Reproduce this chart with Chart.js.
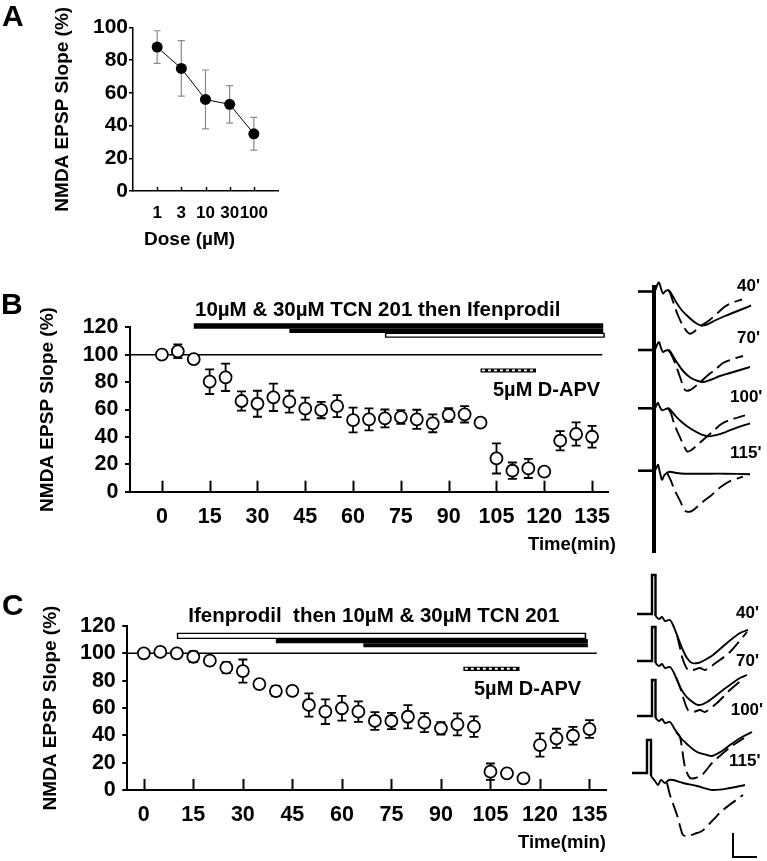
<!DOCTYPE html>
<html>
<head>
<meta charset="utf-8">
<script src="https://cdn.jsdelivr.net/npm/chart.js@4/dist/chart.umd.min.js"></script>
<style>
html,body{margin:0;padding:0;background:#fff;}
#wrap{position:relative;width:767px;height:861px;overflow:hidden;background:#fff;}
canvas{position:absolute;display:block;}
</style>
</head>
<body>
<div id="wrap">
  <canvas id="cA" width="300" height="260" style="left:0;top:0"></canvas>
  <canvas id="cB" width="625" height="280" style="left:0;top:280px"></canvas>
  <canvas id="tB" width="142" height="285" style="left:625px;top:275px"></canvas>
  <canvas id="cC" width="625" height="286" style="left:0;top:575px"></canvas>
  <canvas id="tC" width="142" height="301" style="left:625px;top:560px"></canvas>
</div>
<script>
// ================= DATA =================
// Panel A: dose response
const doseLabels = ['1', '3', '10', '30', '100'];
const doseSlope  = [88, 75, 56, 53, 35];
const doseErr    = [10, 17, 18, 11.5, 10];

// Panels B / C: time course (min) and NMDA EPSP slope (%)
const timeTicks = [0, 15, 30, 45, 60, 75, 90, 105, 120, 135];
const timeB  = [0,5,10,15,20,25,30,35,40,45,50,55,60,65,70,75,80,85,90,95,100,105,110,115,120,125,130,135];
const slopeB = [100,102.5,96.8,80.3,83.5,66.2,64.2,68.9,65.7,60.6,59.6,62.5,52.3,52.8,53.5,54.5,52.8,49.9,56,56.5,50.4,24.3,15.3,17,14.6,37.2,42.1,40.1];
const errB   = [0,5,0,9,10,7,9.5,10,8,8,6,8,9,8,6.5,5,7,6.5,5,6,3,11,6,7,0,7,8.5,8];
const timeC  = [0,5,10,15,20,25,30,35,40,45,50,55,60,65,70,75,80,85,90,95,100,105,110,115,120,125,130,135];
const slopeC = [100,101,100,97.5,94.6,89.5,87,77.5,72.4,72.6,62.2,57.3,59.8,57.3,50.5,50.5,53.6,49.3,45.1,48,46.3,13.4,12.2,8.5,32.9,37.8,39.7,44.6];
const errC   = [0,0,0,4,0,4,8.5,0,3.7,3,8.5,9,9,7.5,6.5,6,8.5,7,4.5,8,7.5,6,0,0,8.5,7,6.5,6.5];

// Drug application periods (min)
const refLineB = [-10, 138.2];
const tcnB     = [10, 138.5];
const tcnHighB = [40, 138.5];
const ifenB    = [70, 139];
const apvB     = [100, 117.4];
const refLineC = [-5, 137.2];
const ifenC    = [10, 134];
const tcnC     = [40, 134.5];
const tcnHighC = [66.5, 134.5];
const apvC     = [96.8, 113.8];

// Example traces (x: time from stimulus, y: amplitude from baseline)
const stubB = [[-17,0],[0,0]];
const artifactB = [[-1,6.5],[-1,-261.5]];
const traceB40Solid  = [[0,0],[2,6],[4,9],[6,3],[8,-2],[10,0],[13,1.5],[15,0],[18,-5],[22,-12],[27,-19],[33,-25],[40,-31],[46,-34],[52,-33],[60,-29],[70,-24.5],[80,-20.5],[90,-16.5],[96,-14]];
const traceB40Dashed = [[13,1.5],[15,-1],[18,-10],[23,-24],[29,-36],[34,-42],[38,-41],[45,-35],[54,-29],[62,-22],[70,-15],[78,-11],[87,-8]];
const traceB70Solid  = [[0,0],[2,5],[4,8],[6,2],[8,-2],[10,-1],[13,0],[15,-1],[18,-6],[23,-14],[29,-22],[36,-28],[43,-31],[48,-32],[55,-30],[65,-26],[75,-23],[85,-20],[95,-17]];
const traceB70Dashed = [[13,0],[16,-4],[20,-13],[25,-27],[30,-40],[35,-40],[42,-35],[52,-26],[61,-19],[68,-13],[78,-9],[88,-6]];
const traceB100Solid  = [[0,0],[2,4],[3,5.5],[5,1],[7,-2],[10,-1],[13,0],[15,-1],[20,-7],[27,-14],[35,-20],[44,-25],[53,-28],[60,-27],[70,-24],[80,-20],[95,-15]];
const traceB100Dashed = [[13,0],[16,-5],[19,-15],[25,-29],[32,-43],[36,-42],[42,-37],[50,-30],[58,-23],[66,-16],[74,-12],[90,-7]];
const traceB115Solid  = [[0,0],[2,4],[3,6],[5,-2],[7,-9],[9,-5],[12,-2],[15,-1],[20,-2],[30,-3],[50,-3],[70,-3],[95,-3.5]];
const traceB115Dashed = [[12,-2],[15,-8],[20,-20],[25,-30],[30,-40],[35,-41],[40,-38],[48,-31],[57,-24],[66,-16],[76,-10],[88,-6]];

const stubC40  = [[-15,0],[0,0],[0,39],[3.5,39],[3.5,-2]];
const traceC40Solid  = [[3.5,-2],[7,-5],[10,-3],[13,-7],[18,-6],[21,-11],[25,-21],[30,-34],[35,-44],[40,-49],[46,-49],[51,-47],[61,-41],[75,-29],[88,-19],[96,-16]];
const traceC40Dashed = [[25,-21],[28,-34],[31,-46],[36,-56],[41,-56],[48,-54],[53,-56],[65,-48],[78,-38],[95,-18]];
const stubC70  = [[-15,0],[0,0],[0,34],[3.5,34],[3.5,-2]];
const traceC70Solid  = [[3.5,-2],[7,-5],[10,-3],[13,-7],[18,-6],[22,-12],[28,-26],[33,-34],[38,-39],[46,-44],[55,-41],[71,-29],[88,-17],[95,-14]];
const traceC70Dashed = [[24,-16],[28,-26],[31,-36],[36,-49],[41,-51],[48,-49],[53,-51],[65,-42],[78,-29],[92,-17]];
const stubC100 = [[-15,0],[0,0],[0,36],[3.5,36],[3.5,-2]];
const traceC100Solid  = [[3.5,-2],[7,-5],[10,-3],[13,-7],[18,-6],[22,-12],[28,-21],[36,-29],[45,-36],[55,-39],[60,-40],[70,-35],[78,-29],[90,-21],[100,-16]];
const traceC100Dashed = [[24,-16],[28,-21],[33,-51],[38,-62],[43,-62],[50,-59],[60,-47],[70,-38],[80,-30],[92,-22]];
const stubC115 = [[-20,0],[-5,0],[-5,33],[-1,33],[-1,-3]];
const traceC115Solid  = [[-1,-3],[3,-8],[6,-12],[9,-7],[13,-10],[17,-7],[21,-7],[31,-10],[45,-13],[61,-17],[78,-15],[93,-12]];
const traceC115Dashed = [[15,-10],[18,-22],[25,-42],[28,-53],[31,-62],[36,-63],[45,-60],[50,-58],[61,-47],[71,-37],[91,-22]];
const scaleBarC = [[81,-219],[81,-243],[105,-243]];

// ================= HELPERS =================
const FONT = "'Liberation Sans', Arial, Helvetica, sans-serif";
Chart.defaults.font.family = FONT;
Chart.defaults.color = '#000';
Chart.defaults.animation = false;

const toXY = (xs, ys) => xs.map((x, i) => ({x, y: ys[i]}));
const pts = (arr, dy = 0) => arr.map(([x, y]) => ({x, y: y + dy}));
const hline = (range, y) => [{x: range[0], y}, {x: range[1], y}];
const inset = (range, d) => [range[0] + d, range[1] - d];
const lineDS = (data, extra) => Object.assign({
  data, borderColor: '#000', borderWidth: 1.8, pointRadius: 0, tension: 0,
  fill: false, clip: false, showLine: true
}, extra);
// Chart.js paints dataset 0 last; give later datasets a lower order so list order = paint order
const paintOrder = list => list.map((ds, i) => Object.assign(ds, {order: list.length - i}));

const bold = (px) => `bold ${px}px ${FONT}`;

function textPlugin(items) {
  return {
    id: 'texts',
    afterDraw(chart) {
      const ctx = chart.ctx;
      items.forEach(it => {
        ctx.save();
        ctx.font = it.font;
        ctx.fillStyle = '#000';
        ctx.textAlign = it.align || 'left';
        ctx.textBaseline = 'middle';
        ctx.fillText(it.text, it.x, it.y);
        ctx.restore();
      });
    }
  };
}
function innerTicksPlugin(len, width) {
  return {
    id: 'innerTicks',
    afterDraw(chart) {
      const sx = chart.scales.x, ctx = chart.ctx, b = chart.chartArea.bottom;
      ctx.save();
      ctx.strokeStyle = '#000';
      ctx.lineWidth = width;
      sx.ticks.forEach(t => {
        const x = Math.round(sx.getPixelForValue(t.value)) + 0.5;
        ctx.beginPath(); ctx.moveTo(x, b); ctx.lineTo(x, b - len); ctx.stroke();
      });
      ctx.restore();
    }
  };
}
const errorBarPlugin = {
  id: 'errorBars',
  beforeDatasetsDraw(chart) {
    const ctx = chart.ctx, sx = chart.scales.x, sy = chart.scales.y;
    chart.data.datasets.forEach(ds => {
      if (!ds.errors) return;
      ctx.save();
      ctx.strokeStyle = ds.errorColor || '#000';
      ctx.lineWidth = ds.errorWidth || 1.5;
      ds.data.forEach((p, j) => {
        const e = ds.errors[j];
        if (!e) return;
        const x = sx.getPixelForValue(p.x);
        const y1 = sy.getPixelForValue(p.y - e), y2 = sy.getPixelForValue(p.y + e);
        const c = ds.capWidth || 4;
        ctx.beginPath();
        ctx.moveTo(x, y1); ctx.lineTo(x, y2);
        ctx.moveTo(x - c, y1); ctx.lineTo(x + c, y1);
        ctx.moveTo(x - c, y2); ctx.lineTo(x + c, y2);
        ctx.stroke();
      });
      ctx.restore();
    });
  }
};

// ================= PANEL A =================
new Chart(document.getElementById('cA'), {
  type: 'line',
  data: {
    datasets: [{
      data: doseLabels.map((l, i) => ({x: i + 1, y: doseSlope[i]})),
      errors: doseErr, errorColor: '#8a8a8a', errorWidth: 1.2, capWidth: 3.5,
      borderColor: '#000', borderWidth: 1, tension: 0,
      pointRadius: 5.5, pointBackgroundColor: '#000', pointBorderColor: '#000', pointBorderWidth: 0
    }]
  },
  options: {
    responsive: false, animation: false, devicePixelRatio: 1, events: [],
    layout: {padding: {left: 0, top: 27.5, right: 22, bottom: 0}},
    plugins: {legend: {display: false}, tooltip: {enabled: false}},
    scales: {
      x: {
        type: 'linear', min: 0, max: 6,
        afterBuildTicks: s => { s.ticks = doseLabels.map((l, i) => ({value: i + 1})); },
        afterFit: s => { s.height = 69; },
        ticks: {callback: v => doseLabels[v - 1], font: {size: 17, weight: 'bold'}, color: '#000', padding: 12, maxRotation: 0, autoSkip: false},
        grid: {display: false, drawTicks: false},
        border: {display: true, color: '#000', width: 1.5}
      },
      y: {
        min: 0, max: 100,
        afterFit: s => { s.width = 133; },
        ticks: {stepSize: 20, font: {size: 21, weight: 'bold'}, color: '#000', padding: 1, autoSkip: false},
        grid: {drawOnChartArea: false, drawTicks: true, tickLength: 4, color: '#000', lineWidth: 1.5},
        border: {display: true, color: '#000', width: 1.5},
        title: {display: true, text: 'NMDA EPSP Slope (%)', font: {size: 19, weight: 'bold'}, color: '#000', padding: {top: 51.6, bottom: 0}}
      }
    }
  },
  plugins: [errorBarPlugin, innerTicksPlugin(4, 1.5), textPlugin([
    {text: 'A', x: 2, y: 18, font: bold(30)},
    {text: 'Dose (\u00b5M)', x: 144, y: 240, font: bold(19)}
  ])]
});

// ================= PANELS B / C =================
function timeOptions(cfg) {
  return {
    responsive: false, animation: false, devicePixelRatio: 1, events: [],
    layout: {padding: {left: 0, top: cfg.padTop, right: cfg.padRight, bottom: 0}},
    plugins: {legend: {display: false}, tooltip: {enabled: false}},
    scales: {
      x: {
        type: 'linear', min: cfg.xMin, max: 140,
        afterBuildTicks: s => { s.ticks = timeTicks.map(v => ({value: v})); },
        afterFit: s => { s.height = cfg.xHeight; },
        ticks: {font: {size: 21.5, weight: 'bold'}, color: '#000', padding: 12.4, maxRotation: 0, autoSkip: false},
        grid: {display: false, drawTicks: false},
        border: {display: true, color: '#000', width: 2}
      },
      y: {
        min: 0, max: 120,
        afterFit: s => { s.width = cfg.yWidth; },
        ticks: {stepSize: 20, font: {size: 21.5, weight: 'bold'}, color: '#000', padding: 6.5, autoSkip: false},
        grid: {drawOnChartArea: false, drawTicks: true, tickLength: 5, color: '#000', lineWidth: 2},
        border: {display: true, color: '#000', width: 2},
        title: {display: true, text: 'NMDA EPSP Slope (%)', font: {size: 19, weight: 'bold'}, color: '#000', padding: {top: cfg.titlePad, bottom: 0}}
      }
    }
  };
}

const circleStyle = {
  showLine: false, pointRadius: 6, pointBorderWidth: 1.8,
  pointBackgroundColor: '#fff', pointBorderColor: '#000', capWidth: 4.5, errorWidth: 1.8
};

new Chart(document.getElementById('cB'), {
  type: 'line',
  data: {
    datasets: paintOrder([
      lineDS(hline(refLineB, 100), {borderWidth: 1.5}),
      lineDS(hline(tcnB, 120.9), {borderWidth: 5.4}),
      lineDS(hline(tcnHighB, 117.4), {borderWidth: 4.4}),
      lineDS(hline(ifenB, 114.2), {borderWidth: 5}),
      lineDS(hline(inset(ifenB, 0.45), 114.2), {borderWidth: 2.6, borderColor: '#fff'}),
      lineDS(hline(apvB, 88.5), {borderWidth: 4}),
      lineDS(hline(inset(apvB, 0.45), 88.5), {borderWidth: 1.8, borderColor: '#fff', borderDash: [3, 3]}),
      Object.assign({data: toXY(timeB, slopeB), errors: errB}, circleStyle)
    ])
  },
  options: timeOptions({padTop: 47.3, padRight: 17, xMin: -10, xHeight: 68.3, yWidth: 130, titlePad: 36}),
  plugins: [errorBarPlugin, innerTicksPlugin(11, 2), textPlugin([
    {text: 'B', x: 1, y: 25.5, font: bold(30)},
    {text: '10\u00b5M & 30\u00b5M TCN 201 then Ifenprodil', x: 195, y: 30.7, font: bold(20.5)},
    {text: '5\u00b5M D-APV', x: 493, y: 110.7, font: bold(20)},
    {text: 'Time(min)', x: 616, y: 265, align: 'right', font: bold(18.5)}
  ])]
});

new Chart(document.getElementById('cC'), {
  type: 'line',
  data: {
    datasets: paintOrder([
      lineDS(hline(refLineC, 100), {borderWidth: 1.5}),
      lineDS(hline(ifenC, 112.8), {borderWidth: 6.3}),
      lineDS(hline(inset(ifenC, 0.45), 112.8), {borderWidth: 3.6, borderColor: '#fff'}),
      lineDS(hline(tcnC, 108.9), {borderWidth: 4.3}),
      lineDS(hline(tcnHighC, 105.9), {borderWidth: 4.1}),
      lineDS(hline(apvC, 88.7), {borderWidth: 4.3}),
      lineDS(hline(inset(apvC, 0.45), 88.7), {borderWidth: 2, borderColor: '#fff', borderDash: [3, 3]}),
      Object.assign({data: toXY(timeC, slopeC), errors: errC}, circleStyle)
    ])
  },
  options: timeOptions({padTop: 51, padRight: 19, xMin: -5, xHeight: 71, yWidth: 127.3, titlePad: 39.6}),
  plugins: [errorBarPlugin, innerTicksPlugin(11, 2), textPlugin([
    {text: 'C', x: 2, y: 32, font: bold(30)},
    {text: 'Ifenprodil  then 10\u00b5M & 30\u00b5M TCN 201', x: 188.3, y: 41.7, font: bold(20.5)},
    {text: '5\u00b5M D-APV', x: 474, y: 114.3, font: bold(20)},
    {text: 'Time(min)', x: 606, y: 268, align: 'right', font: bold(18.5)}
  ])]
});

// ================= TRACES =================
function traceOptions(xMin, xMax, yMin, yMax) {
  return {
    responsive: false, animation: false, devicePixelRatio: 1, events: [],
    layout: {padding: 0},
    plugins: {legend: {display: false}, tooltip: {enabled: false}},
    scales: {
      x: {type: 'linear', display: false, min: xMin, max: xMax},
      y: {type: 'linear', display: false, min: yMin, max: yMax}
    }
  };
}
const solidStyle  = {borderWidth: 1.9, tension: 0.3};
const dashedStyle = {borderWidth: 1.9, tension: 0.3, borderDash: [15, 6]};

// B: trace vertical offsets (stacking)
const offB = [0, -58.5, -116.8, -179.2];
const solidB = [traceB40Solid, traceB70Solid, traceB100Solid, traceB115Solid];
const dashedB = [traceB40Dashed, traceB70Dashed, traceB100Dashed, traceB115Dashed];
const dsTB = [lineDS(pts(artifactB), {borderWidth: 4})];
offB.forEach((o, i) => {
  dsTB.push(lineDS(pts(stubB, o), {borderWidth: 2.6}));
  dsTB.push(lineDS(pts(solidB[i], o), solidStyle));
  dsTB.push(lineDS(pts(dashedB[i], o), dashedStyle));
});
new Chart(document.getElementById('tB'), {
  type: 'line',
  data: {datasets: paintOrder(dsTB)},
  options: traceOptions(-30, 112, -268.5, 16.5),
  plugins: [textPlugin([
    {text: "40'", x: 112, y: 11.7, font: bold(17)},
    {text: "70'", x: 112, y: 63.3, font: bold(17)},
    {text: "100'", x: 105, y: 122.5, font: bold(17)},
    {text: "115'", x: 105, y: 178.3, font: bold(17)}
  ])]
});

// C
const offC = [0, -47, -102, -159];
const stubsC = [stubC40, stubC70, stubC100, stubC115];
const solidC = [traceC40Solid, traceC70Solid, traceC100Solid, traceC115Solid];
const dashedC = [traceC40Dashed, traceC70Dashed, traceC100Dashed, traceC115Dashed];
const dsTC = [lineDS(pts(scaleBarC), {borderWidth: 2})];
offC.forEach((o, i) => {
  dsTC.push(lineDS(pts(stubsC[i], o), {borderWidth: 2.4}));
  dsTC.push(lineDS(pts(solidC[i], o), solidStyle));
  dsTC.push(lineDS(pts(dashedC[i], o), dashedStyle));
});
new Chart(document.getElementById('tC'), {
  type: 'line',
  data: {datasets: paintOrder(dsTC)},
  options: traceOptions(-27, 115, -247, 54),
  plugins: [textPlugin([
    {text: "40'", x: 111, y: 53.3, font: bold(17)},
    {text: "70'", x: 111, y: 101, font: bold(17)},
    {text: "100'", x: 105.7, y: 150, font: bold(17)},
    {text: "115'", x: 104, y: 201.7, font: bold(17)}
  ])]
});
</script>
</body>
</html>
